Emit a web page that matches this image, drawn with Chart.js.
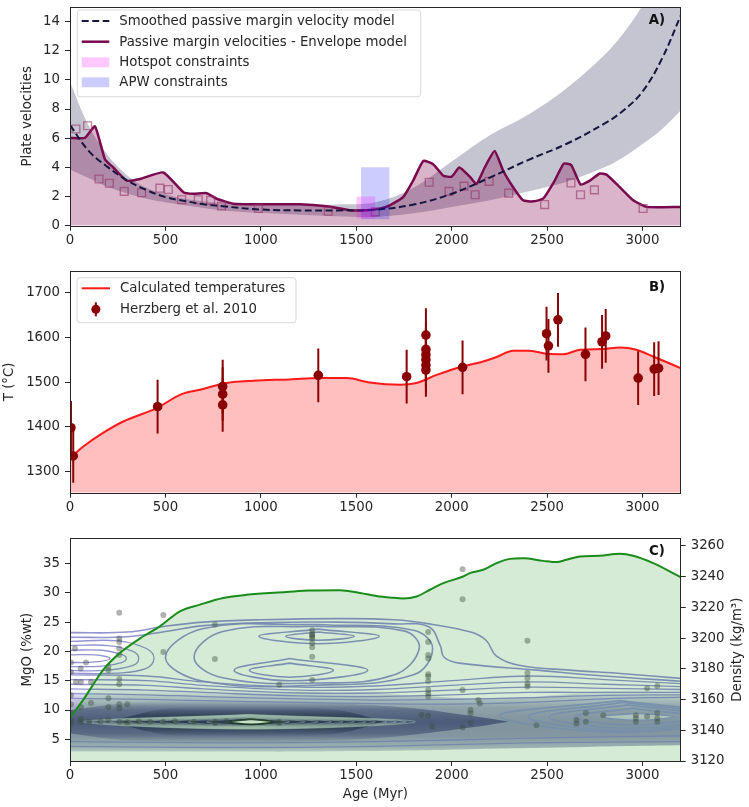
<!DOCTYPE html>
<html><head><meta charset="utf-8">
<script src="https://cdn.jsdelivr.net/npm/chart.js@4.4.1/dist/chart.umd.min.js"></script>
<style>
html,body{margin:0;padding:0;background:#fff;}
#wrap{position:relative;width:749px;height:807px;overflow:hidden;background:#fff;}
canvas{position:absolute;left:0;}
</style></head><body>
<div id="wrap">
<canvas id="cA" width="749" height="250" style="top:0px"></canvas>
<canvas id="cB" width="749" height="270" style="top:250px"></canvas>
<canvas id="cC" width="749" height="287" style="top:520px"></canvas>
</div>
<script>
// ---------- tick labels ----------
const ageTicks = [0,500,1000,1500,2000,2500,3000];
const velTicks = [0,2,4,6,8,10,12,14];
const tempTicks = [1300,1400,1500,1600,1700];
const mgoTicks = [5,10,15,20,25,30,35];
const densTicks = [3120,3140,3160,3180,3200,3220,3240,3260];

// ---------- panel A ----------
const modelAge = [0,100,200,300,400,500,600,700,800,1000,1200,1400,1600,1800,2000,2200,2400,2600,2800,2900,3000,3100,3200];
const smoothVel = [6.9,5.1,4.0,3.1,2.45,1.96,1.7,1.47,1.33,1.11,1.05,1.05,1.1,1.45,2.19,3.3,4.5,5.6,7.0,7.9,9.2,11.4,14.4];
const bandUpper = [9.85,6.8,4.8,3.45,2.6,2.15,1.85,1.68,1.55,1.48,1.45,1.45,1.6,2.6,4.4,6.2,7.6,9.4,11.7,13.2,15.1,17.5,20.0];
const bandLower = [3.85,3.25,2.65,2.2,1.85,1.6,1.4,1.22,1.05,0.88,0.75,0.65,0.6,0.85,1.29,1.75,2.35,3.0,4.0,4.7,5.6,6.6,7.9];
const envAge = [0,78,131,183,227,297,367,489,594,646,716,768,855,995,1204,1344,1466,1553,1623,1676,1746,1798,1851,1903,1956,2000,2040,2095,2130,2173,2225,2270,2322,2374,2427,2479,2540,2587,2627,2675,2724,2776,2811,2881,2951,3021,3200];
const envVel = [6.02,6.02,6.81,4.56,3.99,3.09,3.2,3.65,2.3,2.19,2.23,1.85,1.51,1.47,1.47,1.33,1.06,1.06,1.17,1.4,1.96,3.09,4.44,4.22,3.43,3.36,3.99,3.36,2.86,3.99,5.12,3.77,2.64,1.74,1.67,1.85,3.09,4.26,4.15,2.82,3.09,3.58,3.5,2.64,1.74,1.29,1.29];
const sqAge = [31,92,152,206,284,375,471,515,585,672,737,794,987,1353,1600,1882,1986,2065,2123,2196,2299,2487,2625,2675,2748,3003];
const sqVel = [6.63,6.85,3.2,2.91,2.35,2.26,2.57,2.48,1.78,1.78,1.74,1.35,1.18,0.99,0.95,2.98,2.35,2.71,2.12,3.04,2.23,1.45,2.93,2.12,2.46,1.18];
const hotspotAge = [1500,1600];
const hotspotVel = [0.5,2.0];
const apwAge = [1525,1675];
const apwVel = [0.45,4.0];

// ---------- panel B ----------
const tAge = [0,70,175,279,454,585,681,821,960,1152,1309,1449,1571,1729,1816,1921,2025,2165,2235,2322,2409,2497,2584,2671,2794,2881,2968,3056,3200];
const tVal = [1330,1356,1387,1412,1442,1473,1483,1498,1503,1506,1509,1509,1499,1494,1498,1516,1531,1546,1556,1570,1570,1563,1562,1572,1574,1577,1572,1557,1531];
const hAge = [5,17,459,800,800,800,1301,1764,1865,1865,1865,1865,1865,1865,2057,2497,2507,2557,2701,2788,2807,2977,3061,3084];
const hT = [1398,1335,1445,1490,1473,1449,1515,1512,1605,1573,1561,1550,1538,1527,1533,1608,1581,1639,1562,1590,1603,1509,1529,1531];
const hErr = [60,60,60,60,60,60,60,60,60,60,60,60,60,60,60,60,60,60,60,60,60,60,60,60];

// ---------- panel C ----------
const gAge = [0,70,175,262,384,471,576,681,803,925,1134,1257,1414,1519,1623,1676,1746,1816,1886,1956,2060,2095,2165,2235,2305,2375,2479,2549,2601,2671,2776,2881,2951,3056,3200];
const gDen = [3148.2,3160,3179.5,3190.4,3201.2,3207.7,3217.4,3221.8,3226.1,3228.2,3230,3231,3231.2,3229.4,3227.1,3226.5,3225.8,3227.1,3231.5,3235.8,3240.1,3242.3,3244.5,3248.8,3251.6,3252,3250.3,3249.5,3251,3253.1,3253.6,3254.9,3253.6,3248.8,3239.7];
const pAge = [258,489,759,759,489,26,56,84,5,5,31,57,110,201,201,258,258,258,258,258,258,1096,
  1269,1269,1269,1269,1269,1269,1269,1269,1269,
  1877,1877,1877,1877,1877,1877,1877,1877,1877,1877,
  2057,2057,2057,2397,2397,2397,2397,2397,
  1842,1877,1898,2099,2099,2099,2140,2148,2057,2444,
  2654,2654,2703,2703,2794,2965,2965,2965,3024,3077,3077,3077,3024,3077,
  5,5,57,57,100,160,201,258,300,360,420,489,550,650,760,760,820,1096,1096,
  5,5,57,110,201,201,258,258,300,5];
const pMgO = [26.6,26.2,24.6,18.7,19.9,20.5,17.1,18.1,18.1,16.5,14.8,14.8,14.8,17.4,16.8,22.2,21.6,20.5,19.4,15.3,14.4,14.3,
  23.6,23.0,22.8,22.5,22.2,21.4,20.7,19.1,15.1,
  23.3,21.6,19.4,18.8,16.1,15.7,14.9,13.4,12.8,12.3,
  34.0,28.9,13.4,21.8,16.3,15.4,14.5,14.0,
  9.2,9.0,7.2,10.0,9.4,7.8,11.7,11.1,7.0,7.4,
  8.3,7.7,9.5,8.0,9.1,9.1,8.6,8.0,8.9,9.5,8.6,8.0,13.7,14.1,
  8.2,7.6,8.0,8.5,8.0,8.1,8.3,8.0,7.9,8.1,8.0,8.0,8.1,8.0,8.0,7.8,8.1,8.0,7.8,
  11.0,12.5,10.5,11.2,10.5,12.0,11.0,10.3,11.0,9.5];

// density band of the KDE (MgO bounds per age)
const wideAge = [0,300,600,900,1200,1500,1800,2100,2400,2700,3000,3200];
const wideLow = [2.9,2.9,2.9,2.9,2.9,3.0,3.1,3.3,3.5,3.7,3.9,4.0];
const wideUp = [13.4,13.4,13.4,13.4,13.3,13.0,12.5,12.0,12.2,13.0,13.6,14.0];
const coreAge = [0,300,600,900,1200,1500,1800,2100,2300];
const coreLow = [6.0,4.8,4.5,4.5,4.6,5.0,5.8,7.0,8.0];
const coreUp = [10.0,11.2,11.5,11.5,11.4,11.0,10.3,9.0,8.0];
const innerAge = [250,500,800,1100,1400,1650];
const innerLow = [7.6,5.8,5.5,5.5,6.0,8.0];
const innerUp = [8.4,10.2,10.5,10.5,10.0,8.0];

// contour lines [age, MgO]
const contourTop1 = [[0,23.2],[300,23.3],[500,24.3],[700,25.0],[1000,25.4],[1400,25.6],[1700,25.4],[1900,24.6],[2100,23.3],[2180,21.9],[2235,19.2],[2360,17.6],[2620,16.8],[2900,16.2],[3200,15.4]];
const contourTop2 = [[0,22.4],[300,22.5],[500,23.4],[700,24.4],[1000,24.9],[1400,25.0],[1700,24.7],[1880,24.2],[1940,21.0],[1960,19.0],[2040,18.0],[2450,16.8],[2800,15.8],[3200,14.9]];
const peakA1 = [[1300,23.3],[1490,22.6],[1300,21.9],[1130,22.6],[1300,23.3]];
const peakA2 = [[1300,23.8],[1620,22.6],[1300,21.3],[990,22.6],[1300,23.8]];
const peakB1 = [[1150,18.0],[1380,16.8],[1150,15.6],[940,16.8],[1150,18.0]];
const peakB2 = [[1150,18.8],[1560,16.8],[1150,15.0],[860,16.8],[1150,18.8]];
const loopAB1 = [[1300,24.3],[1750,23.5],[1830,20.5],[1700,16.0],[1300,14.6],[800,15.5],[650,19.0],[800,23.4],[1300,24.3]];
const loopAB2 = [[1300,24.6],[1800,23.6],[1900,20.5],[1800,16.0],[1300,14.25],[700,14.9],[500,19.0],[700,23.9],[1300,24.6]];
const tongue0 = [[0,21.7],[250,21.8],[400,20.5],[440,18.8],[400,17.1],[250,16.3],[0,16.3]];
const tongue1 = [[0,21.0],[200,21.0],[330,20.0],[360,18.8],[330,17.6],[200,16.8],[0,16.7]];
const tongue2 = [[0,20.2],[170,20.2],[270,19.5],[295,18.8],[270,18.1],[170,17.5],[0,17.4]];
const tongue3 = [[0,19.4],[130,19.4],[210,18.8],[130,18.2],[0,18.1]];
const lineL1 = [[0,16.0],[400,15.8],[700,14.8],[1200,13.9],[1600,14.1],[2000,15.0],[2400,15.8],[2800,15.2],[3200,14.5]];
const lineL2 = [[0,15.2],[400,15.0],[700,14.2],[1200,13.4],[1600,13.5],[2000,14.2],[2400,14.8],[2800,14.4],[3200,14.0]];
const lineL3 = [[0,14.4],[400,14.2],[700,13.6],[1200,12.9],[1600,12.9],[2000,13.4],[2400,13.9],[2800,13.7],[3200,13.5]];
const lineL4 = [[0,13.6],[400,13.4],[700,13.0],[1200,12.4],[1600,12.3],[2000,12.6],[2400,13.0],[2800,13.0],[3200,13.0]];
const lineL5 = [[0,12.8],[400,12.6],[700,12.3],[1200,11.9],[1600,11.7],[2000,11.8],[2400,12.1],[2800,12.5],[3200,12.6]];
const lineL6 = [[0,12.0],[400,11.8],[700,11.6],[1200,11.3],[1600,11.1],[2000,11.0],[2400,11.3],[2800,11.9],[3200,12.2]];
const lineB1 = [[0,4.6],[800,4.4],[1600,4.6],[2400,5.2],[3200,5.6]];
const lineB2 = [[0,3.8],[800,3.6],[1600,3.8],[2400,4.4],[3200,4.6]];
const rightRings = [
  [[2975,9.45],[3160,8.85],[2975,8.25],[2790,8.85],[2975,9.45]],
  [[2950,10.3],[3260,8.85],[2950,7.4],[2640,8.85],[2950,10.3]],
  [[2920,10.9],[3350,8.85],[2920,6.9],[2510,8.85],[2920,10.9]],
  [[2900,11.3],[3420,8.9],[2900,6.5],[2400,8.9],[2900,11.3]],
  [[2880,11.6],[3500,8.9],[2880,6.2],[2250,9.0],[2880,11.6]]
];
const centralRings = [
  [[950,8.45],[1063,8.0],[950,7.55],[836,8.0],[950,8.45]],
  [[933,8.6],[1150,8.0],[933,7.4],[716,8.0],[933,8.6]],
  [[925,8.7],[1230,8.0],[925,7.3],[620,8.0],[925,8.7]],
  [[920,8.78],[1300,8.0],[920,7.22],[541,8.0],[920,8.78]],
  [[920,8.85],[1370,8.0],[920,7.15],[471,8.0],[920,8.85]],
  [[920,8.9],[1430,8.0],[920,7.1],[410,8.0],[920,8.9]],
  [[924,8.95],[1490,8.0],[924,7.05],[358,8.0],[924,8.95]],
  [[927,9.0],[1550,8.0],[927,7.0],[305,8.0],[927,9.0]],
  [[926,9.05],[1600,8.0],[926,6.95],[253,8.0],[926,9.05]],
  [[933,9.1],[1660,8.0],[933,6.9],[206,8.0],[933,9.1]],
  [[933,9.15],[1710,8.0],[933,6.85],[157,8.0],[933,9.15]],
  [[936,9.2],[1760,8.0],[936,6.8],[113,8.0],[936,9.2]],
  [[940,9.25],[1810,8.0],[940,6.75],[70,8.0],[940,9.25]]
];

// ---------- helpers ----------
const pts = (xs, ys) => xs.map((x, i) => ({x: x, y: ys[i]}));
const pairPts = arr => arr.map(p => ({x: p[0], y: p[1]}));
const FONT = '"DejaVu Sans", sans-serif';
const INK = '#262626';
Chart.defaults.font.family = FONT;
Chart.defaults.font.size = 13.3;
Chart.defaults.color = INK;

function vGrad(chart, stops) {
  const {chartArea, scales} = chart;
  if (!chartArea) return 'rgba(0,0,0,0)';
  const y = scales.y;
  const lo = stops[0][0], hi = stops[stops.length - 1][0];
  const g = chart.ctx.createLinearGradient(0, y.getPixelForValue(lo), 0, y.getPixelForValue(hi));
  stops.forEach(s => g.addColorStop((s[0] - lo) / (hi - lo), s[1]));
  return g;
}

function roundRect(ctx, x, y, w, h, r) {
  ctx.beginPath();
  ctx.moveTo(x + r, y); ctx.lineTo(x + w - r, y); ctx.quadraticCurveTo(x + w, y, x + w, y + r);
  ctx.lineTo(x + w, y + h - r); ctx.quadraticCurveTo(x + w, y + h, x + w - r, y + h);
  ctx.lineTo(x + r, y + h); ctx.quadraticCurveTo(x, y + h, x, y + h - r);
  ctx.lineTo(x, y + r); ctx.quadraticCurveTo(x, y, x + r, y); ctx.closePath();
}

const framePlugin = {
  id: 'frame',
  afterDraw(chart, args, o) {
    if (!o || !o.label) return;
    const {ctx, chartArea: a} = chart;
    ctx.save();
    ctx.strokeStyle = INK; ctx.lineWidth = 1;
    ctx.strokeRect(Math.round(a.left) + 0.5, Math.round(a.top) + 0.5, Math.round(a.right - a.left) - 1, Math.round(a.bottom - a.top));
    ctx.font = 'bold 13.3px ' + FONT; ctx.fillStyle = '#111'; ctx.textAlign = 'center'; ctx.textBaseline = 'middle';
    ctx.fillText(o.label, o.lx, o.ly);
    if (o.rightTitle) {
      ctx.translate(o.rightTitle.x, (a.top + a.bottom) / 2);
      ctx.rotate(-Math.PI / 2);
      ctx.font = '13.3px ' + FONT; ctx.fillStyle = INK;
      ctx.fillText(o.rightTitle.text, 0, 0);
    }
    ctx.restore();
  }
};

const legendPlugin = {
  id: 'mlegend',
  afterDraw(chart, args, o) {
    if (!o || !o.items) return;
    const ctx = chart.ctx;
    ctx.save();
    const b = o.box;
    roundRect(ctx, b[0], b[1], b[2], b[3], 3);
    ctx.fillStyle = 'rgba(255,255,255,0.8)'; ctx.fill();
    ctx.strokeStyle = '#d9d9d9'; ctx.lineWidth = 1; ctx.stroke();
    ctx.font = '13.3px ' + FONT; ctx.textBaseline = 'middle'; ctx.textAlign = 'left';
    o.items.forEach((it, i) => {
      const y = o.rows[i], h0 = o.handle[0], h1 = o.handle[1];
      if (it.type === 'line') {
        ctx.beginPath(); ctx.setLineDash(it.dash || []); ctx.strokeStyle = it.color; ctx.lineWidth = it.width;
        ctx.moveTo(h0, y); ctx.lineTo(h1, y); ctx.stroke(); ctx.setLineDash([]);
      } else if (it.type === 'patch') {
        ctx.fillStyle = it.color; ctx.fillRect(h0, y - 5, h1 - h0, 10);
      } else if (it.type === 'err') {
        const cx = (h0 + h1) / 2;
        ctx.strokeStyle = it.color; ctx.lineWidth = 2;
        ctx.beginPath(); ctx.moveTo(cx, y - 7); ctx.lineTo(cx, y + 7); ctx.stroke();
        ctx.beginPath(); ctx.arc(cx, y, 4.5, 0, Math.PI * 2); ctx.fillStyle = it.color; ctx.fill();
      }
      ctx.fillStyle = INK; ctx.fillText(it.text, o.textX, y + 0.5);
    });
    ctx.restore();
  }
};

const errPlugin = {
  id: 'errbars',
  beforeDatasetDraw(chart, args, o) {
    if (!o || args.index !== o.index) return;
    const {ctx, chartArea: a, scales: {x, y}} = chart;
    ctx.save();
    ctx.beginPath(); ctx.rect(a.left, a.top, a.right - a.left, a.bottom - a.top); ctx.clip();
    ctx.strokeStyle = '#8b0000'; ctx.lineWidth = 2;
    hAge.forEach((ag, i) => {
      const px = x.getPixelForValue(ag);
      ctx.beginPath();
      ctx.moveTo(px, y.getPixelForValue(hT[i] - hErr[i]));
      ctx.lineTo(px, y.getPixelForValue(hT[i] + hErr[i]));
      ctx.stroke();
    });
    ctx.restore();
  }
};
Chart.register(framePlugin, legendPlugin, errPlugin);

function xScale(height, title) {
  return {
    type: 'linear', min: 0, max: 3200,
    afterBuildTicks: s => { s.ticks = ageTicks.map(v => ({value: v})); },
    afterFit: s => { s.height = height; s.paddingLeft = 0; s.paddingRight = 0; },
    ticks: {padding: 1.5, maxRotation: 0, autoSkip: false, callback: v => String(v), color: INK},
    grid: {drawOnChartArea: false, drawTicks: true, tickLength: 5, tickColor: INK, lineWidth: 1},
    border: {display: false},
    title: title ? {display: true, text: title, padding: {top: 0, bottom: 4}, color: INK} : {display: false}
  };
}
function yScale(min, max, ticks, title, tpad, pos, width) {
  return {
    type: 'linear', min: min, max: max, position: pos || 'left',
    afterBuildTicks: s => { s.ticks = ticks.map(v => ({value: v})); },
    afterFit: s => { s.width = width || 70; s.paddingTop = 0; s.paddingBottom = 0; },
    ticks: {padding: 5, autoSkip: false, callback: v => String(v), color: INK},
    grid: {drawOnChartArea: false, drawTicks: true, tickLength: 5, tickColor: INK, lineWidth: 1},
    border: {display: false},
    title: title ? {display: true, text: title, padding: {top: tpad, bottom: 0}, color: INK} : {display: false}
  };
}
const baseOpts = {
  responsive: false, animation: false, devicePixelRatio: 1,
  elements: {point: {radius: 0, hoverRadius: 0}},
  events: []
};

// ---------- Chart A ----------
new Chart(document.getElementById('cA'), {
  type: 'line',
  data: {datasets: [
    {data: pts(modelAge, bandUpper), fill: '+1', backgroundColor: 'rgba(40,40,85,0.27)', borderWidth: 0, tension: 0.35, order: 10},
    {data: pts(modelAge, bandLower), fill: false, borderWidth: 0, tension: 0.35, order: 10},
    {data: pts(envAge, envVel), fill: 'origin', backgroundColor: 'rgba(128,0,72,0.29)', borderColor: '#7a0a4f', borderWidth: 2.5, tension: 0.15, order: 6},
    {data: pts(sqAge, sqVel), showLine: false, pointStyle: 'rect', pointRadius: 5.5, pointBorderWidth: 1.4,
     pointBorderColor: 'rgba(150,50,105,0.6)', pointBackgroundColor: 'rgba(0,0,0,0)', order: 5},
    {data: pts(modelAge, smoothVel), fill: false, borderColor: '#16163e', borderWidth: 2, borderDash: [7, 3.5], tension: 0.4, order: 3},
    {data: pts(hotspotAge, [hotspotVel[1], hotspotVel[1]]), fill: '+1', backgroundColor: 'rgba(255,0,255,0.22)', borderWidth: 0, order: 2},
    {data: pts(hotspotAge, [hotspotVel[0], hotspotVel[0]]), fill: false, borderWidth: 0, order: 2},
    {data: pts(apwAge, [apwVel[1], apwVel[1]]), fill: '+1', backgroundColor: 'rgba(0,0,255,0.2)', borderWidth: 0, order: 2},
    {data: pts(apwAge, [apwVel[0], apwVel[0]]), fill: false, borderWidth: 0, order: 2}
  ]},
  options: Object.assign({}, baseOpts, {
    layout: {padding: {top: 4, right: 68.3, left: 0, bottom: 0}},
    scales: {x: xScale(24.3), y: yScale(0, 15, velTicks, 'Plate velocities', 20)},
    plugins: {
      legend: {display: false}, tooltip: {enabled: false},
      frame: {label: 'A)', lx: 657, ly: 21},
      mlegend: {box: [77.3, 10, 343.4, 86.7], rows: [21, 41.7, 62.3, 82.3], handle: [81.7, 109.3], textX: 119.3,
        items: [
          {type: 'line', color: '#16163e', width: 2, dash: [7, 3.5], text: 'Smoothed passive margin velocity model'},
          {type: 'line', color: '#7a0a4f', width: 2.5, text: 'Passive margin velocities - Envelope model'},
          {type: 'patch', color: 'rgba(255,0,255,0.22)', text: 'Hotspot constraints'},
          {type: 'patch', color: 'rgba(0,0,255,0.2)', text: 'APW constraints'}
        ]}
    }
  })
});

// ---------- Chart B ----------
new Chart(document.getElementById('cB'), {
  type: 'line',
  data: {datasets: [
    {data: pts(tAge, tVal), fill: 'start', backgroundColor: 'rgba(255,0,0,0.25)', borderColor: '#ff1a1a', borderWidth: 2, cubicInterpolationMode: 'monotone', order: 5},
    {data: pts(hAge, hT), showLine: false, pointRadius: 4.8, pointBackgroundColor: '#8b0000', pointBorderColor: '#8b0000', pointBorderWidth: 0, order: 1}
  ]},
  options: Object.assign({}, baseOpts, {
    layout: {padding: {top: 21, right: 68.3, left: 0, bottom: 0}},
    scales: {x: xScale(27.3), y: yScale(1253, 1748, tempTicks, 'T (°C)', 2)},
    plugins: {
      legend: {display: false}, tooltip: {enabled: false},
      errbars: {index: 1},
      frame: {label: 'B)', lx: 657, ly: 37.7},
      mlegend: {box: [77, 27.7, 219, 45], rows: [38.3, 59.3], handle: [81.7, 110], textX: 120,
        items: [
          {type: 'line', color: '#ff1a1a', width: 2, text: 'Calculated temperatures'},
          {type: 'err', color: '#8b0000', text: 'Herzberg et al. 2010'}
        ]}
    }
  })
});

// ---------- Chart C ----------
const contourColor = 'rgba(135,135,205,0.9)';
const cLine = (arr, w) => ({data: pairPts(arr), fill: false, borderColor: contourColor, borderWidth: w || 1.5, tension: 0.4, order: 15});
const dsC = [
  {data: pts(wideAge, wideUp), fill: '+1', borderWidth: 0, tension: 0.4, order: 20,
   backgroundColor: c => vGrad(c.chart, [[2.9,'rgba(110,125,160,0.3)'],[3.6,'rgba(100,105,155,0.45)'],[5.5,'rgba(75,72,140,0.55)'],[8,'rgba(70,68,135,0.55)'],[10.5,'rgba(85,82,150,0.5)'],[12.3,'rgba(120,122,185,0.32)'],[13.4,'rgba(140,145,205,0.06)']])},
  {data: pts(wideAge, wideLow), fill: false, borderWidth: 0, tension: 0.4, order: 20},
  {data: pts(coreAge, coreUp), fill: '+1', borderWidth: 0, tension: 0.4, order: 19,
   backgroundColor: c => vGrad(c.chart, [[4.4,'rgba(45,38,115,0)'],[6,'rgba(45,38,115,0.45)'],[8,'rgba(45,38,115,0.6)'],[10,'rgba(45,38,115,0.45)'],[11.6,'rgba(45,38,115,0)']])},
  {data: pts(coreAge, coreLow), fill: false, borderWidth: 0, tension: 0.4, order: 19},
  {data: pts(innerAge, innerUp), fill: '+1', borderWidth: 0, tension: 0.4, order: 18,
   backgroundColor: c => vGrad(c.chart, [[5.5,'rgba(28,24,70,0)'],[6.8,'rgba(28,24,70,0.5)'],[8,'rgba(28,24,70,0.6)'],[9.2,'rgba(28,24,70,0.5)'],[10.5,'rgba(28,24,70,0)']])},
  {data: pts(innerAge, innerLow), fill: false, borderWidth: 0, tension: 0.4, order: 18}
];
centralRings.forEach((r, i) => dsC.push({data: pairPts(r), fill: i === 0 ? 'shape' : false, backgroundColor: 'rgba(245,250,245,0.97)',
  borderColor: i === 0 ? 'rgba(30,40,40,0.9)' : 'rgba(215,228,222,0.42)', borderWidth: i === 0 ? 1.8 : 1, tension: 0.4, order: 16}));
rightRings.forEach((r, i) => dsC.push({data: pairPts(r), fill: i === 0 ? 'shape' : false, backgroundColor: 'rgba(235,240,240,0.6)',
  borderColor: 'rgba(140,145,205,0.9)', borderWidth: 1.6, tension: 0.4, order: 15}));
[contourTop1, contourTop2, peakA1, peakA2, peakB1, peakB2, loopAB1, loopAB2].forEach(a => dsC.push(cLine(a, 1.6)));
[tongue0, tongue1, tongue2, tongue3, lineL1, lineL2, lineL3, lineL4, lineL5, lineL6, lineB1, lineB2].forEach(a => dsC.push(cLine(a, 1.3)));
dsC.push({data: pts(pAge, pMgO), showLine: false, pointRadius: 3, pointBackgroundColor: 'rgba(70,70,70,0.42)', pointBorderWidth: 0, order: 12});
dsC.push({data: pts(gAge, gDen), yAxisID: 'y1', fill: 'start', backgroundColor: 'rgba(0,128,0,0.16)', borderColor: '#1a8c1a', borderWidth: 2, cubicInterpolationMode: 'monotone', order: 1});

new Chart(document.getElementById('cC'), {
  type: 'line',
  data: {datasets: dsC},
  options: Object.assign({}, baseOpts, {
    layout: {padding: {top: 18.3, right: 0, left: 0, bottom: 0}},
    scales: {
      x: xScale(46, 'Age (Myr)'),
      y: yScale(1.3, 39.3, mgoTicks, 'MgO (%wt)', 20),
      y1: yScale(3120, 3265, densTicks, null, 0, 'right', 68.3)
    },
    plugins: {
      legend: {display: false}, tooltip: {enabled: false},
      frame: {label: 'C)', lx: 657, ly: 31.7, rightTitle: {text: 'Density (kg/m³)', x: 738}}
    }
  })
});
</script>
</body></html>
